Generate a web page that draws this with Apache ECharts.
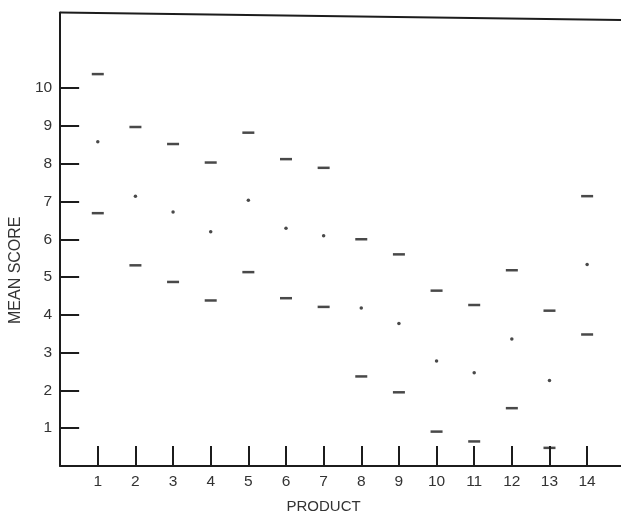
<!DOCTYPE html>
<html>
<head>
<meta charset="utf-8">
<script src="https://cdn.jsdelivr.net/npm/echarts@6/dist/echarts.min.js"></script>
<style>html,body{margin:0;padding:0;background:#fff}#c{width:621px;height:519px}</style>
</head>
<body>
<div id="c"></div>
<script>
var products = [1,2,3,4,5,6,7,8,9,10,11,12,13,14];
var upper = [10.37, 8.97, 8.52, 8.03, 8.82, 8.12, 7.89, 6.00, 5.60, 4.64, 4.26, 5.18, 4.11, 7.14];
var mean  = [8.58, 7.14, 6.72, 6.20, 7.03, 6.29, 6.09, 4.18, 3.77, 2.78, 2.47, 3.36, 2.26, 5.33];
var lower = [6.69, 5.31, 4.87, 4.38, 5.13, 4.44, 4.21, 2.37, 1.95, 0.91, 0.65, 1.53, 0.48, 3.48];
var yTicks = [1,2,3,4,5,6,7,8,9,10];
var xTicks = [1,2,3,4,5,6,7,8,9,10,11,12,13,14];

var ink = '#1c1c1c';
var font = 'Liberation Sans';
function pts(vals){ return products.map(function(p,i){ return [p, vals[i]]; }); }

var chart = echarts.init(document.getElementById('c'), null, {renderer:'canvas'});
chart.setOption({
  backgroundColor: '#fff',
  animation: false,
  grid: {left: 59.5, right: 0, top: 12.5, bottom: 47.7},
  xAxis: {
    type: 'value', min: 0, max: 14.9, interval: 1,
    name: 'PRODUCT', nameLocation: 'middle', nameGap: 33,
    nameTextStyle: {fontFamily: font, fontSize: 15, color: '#333', padding: [0,34,0,0]},
    splitLine: {show: false},
    axisLine: {show: true, onZero: false, lineStyle: {color: ink, width: 2}},
    axisTick: {show: true, inside: true, length: 20, customValues: xTicks, lineStyle: {color: ink, width: 2}},
    axisLabel: {customValues: xTicks, margin: 8, fontFamily: font, fontSize: 15.5, color: '#333'}
  },
  yAxis: {
    type: 'value', min: 0, max: 12, interval: 1,
    name: 'MEAN SCORE', nameLocation: 'middle', nameGap: 36, nameRotate: 90,
    nameTextStyle: {fontFamily: font, fontSize: 16, color: '#333', padding: [0,62,0,0]},
    splitLine: {show: false},
    axisLine: {show: true, onZero: false, lineStyle: {color: ink, width: 2}},
    axisTick: {show: true, inside: true, length: 19, customValues: yTicks, lineStyle: {color: ink, width: 2}},
    axisLabel: {customValues: yTicks, margin: 8, fontFamily: font, fontSize: 15.5, color: '#333'}
  },
  series: [
    {type: 'scatter', data: pts(upper), symbol: 'rect', symbolSize: [12, 2.5], itemStyle: {color: ink}, silent: true,
     markLine: {silent: true, symbol: 'none', label: {show: false},
       lineStyle: {color: ink, width: 2, type: 'solid'},
       data: [[{coord: [0, 12]}, {coord: [14.9, 11.8]}]]}},
    {type: 'scatter', data: pts(mean), symbol: 'circle', symbolSize: 3.5, itemStyle: {color: ink}, silent: true},
    {type: 'scatter', data: pts(lower), symbol: 'rect', symbolSize: [12, 2.5], itemStyle: {color: ink}, silent: true}
  ]
});
</script>
</body>
</html>
